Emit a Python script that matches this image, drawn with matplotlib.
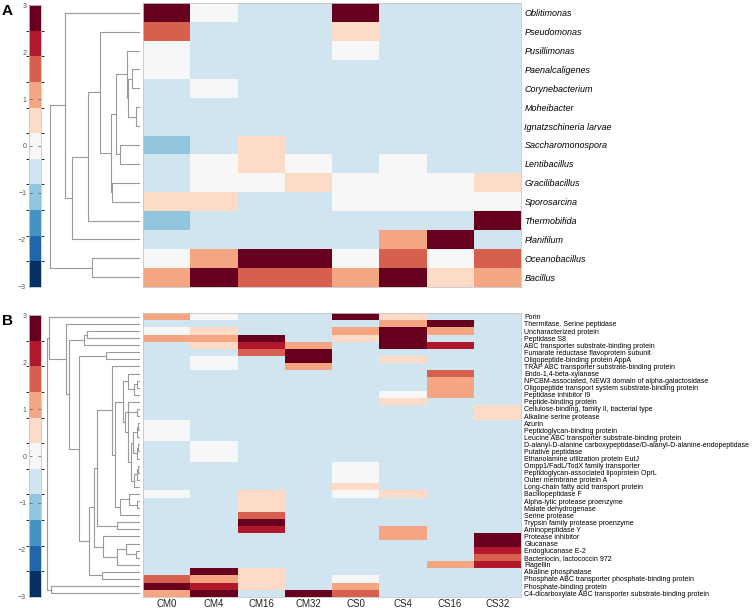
import matplotlib.pyplot as plt
import numpy as np
from matplotlib.colors import ListedColormap, BoundaryNorm
from matplotlib.colorbar import ColorbarBase

plt.rcParams['font.family'] = ['Liberation Sans', 'DejaVu Sans']

samples = ["CM0", "CM4", "CM16", "CM32", "CS0", "CS4", "CS16", "CS32"]

# z-scores
genera = ["Oblitimonas", "Pseudomonas", "Pusillimonas", "Paenalcaligenes",
          "Corynebacterium", "Moheibacter", "Ignatzschineria larvae",
          "Saccharomonospora", "Lentibacillus", "Gracilibacillus",
          "Sporosarcina", "Thermobifida", "Planifilum", "Oceanobacillus",
          "Bacillus"]
genus_z = [
    [2.8, 0.0, -0.5, -0.5, 2.8, -0.5, -0.5, -0.5],
    [1.6, -0.5, -0.5, -0.5, 0.5, -0.5, -0.5, -0.5],
    [0.0, -0.5, -0.5, -0.5, 0.0, -0.5, -0.5, -0.5],
    [0.0, -0.5, -0.5, -0.5, -0.5, -0.5, -0.5, -0.5],
    [-0.5, 0.0, -0.5, -0.5, -0.5, -0.5, -0.5, -0.5],
    [-0.5, -0.5, -0.5, -0.5, -0.5, -0.5, -0.5, -0.5],
    [-0.5, -0.5, -0.5, -0.5, -0.5, -0.5, -0.5, -0.5],
    [-1.1, -0.5, 0.5, -0.5, -0.5, -0.5, -0.5, -0.5],
    [-0.5, 0.0, 0.5, 0.0, -0.5, 0.0, -0.5, -0.5],
    [-0.5, 0.0, 0.0, 0.5, 0.0, 0.0, 0.0, 0.5],
    [0.5, 0.5, -0.5, -0.5, 0.0, 0.0, 0.0, 0.0],
    [-1.1, -0.5, -0.5, -0.5, -0.5, -0.5, -0.5, 2.8],
    [-0.5, -0.5, -0.5, -0.5, -0.5, 1.1, 2.8, -0.5],
    [0.0, 1.1, 2.8, 2.8, 0.0, 1.6, 0.0, 1.6],
    [1.1, 2.8, 1.6, 1.6, 1.1, 2.8, 0.5, 1.1],
]
# linkage rows (a, b, height); merge k gets id n_rows + k
genus_links = [
    (5, 6, 0.48), (3, 4, 0.93), (16, 15, 1.30), (2, 17, 1.48),
    (7, 8, 2.22), (18, 19, 2.70), (9, 10, 3.07), (20, 21, 3.26),
    (1, 22, 4.44), (13, 14, 5.37), (23, 11, 5.74), (25, 12, 7.52),
    (0, 26, 8.26), (27, 24, 10.0),
]

proteins = [
    "Porin", "Thermitase. Serine peptidase", "Uncharacterized protein",
    "Peptidase S8", "ABC transporter substrate-binding protein",
    "Fumarate reductase flavoprotein subunit",
    "Oligopeptide-binding protein AppA",
    "TRAP ABC transporter substrate-binding protein",
    "Endo-1,4-beta-xylanase",
    "NPCBM-associated, NEW3 domain of alpha-galactosidase",
    "Oligopeptide transport system substrate-binding protein",
    "Peptidase inhibitor I9", "Peptide-binding protein",
    "Cellulose-binding, family II, bacterial type",
    "Alkaline serine protease", "Azurin", "Peptidoglycan-binding protein",
    "Leucine ABC transporter substrate-binding protein",
    "D-alanyl-D-alanine carboxypeptidase/D-alanyl-D-alanine-endopeptidase",
    "Putative peptidase", "Ethanolamine utilization protein EutJ",
    "Ompp1/FadL/TodX family transporter",
    "Peptidoglycan-associated lipoprotein OprL", "Outer membrane protein A",
    "Long-chain fatty acid transport protein", "Bacillopeptidase F",
    "Alpha-lytic protease proenzyme", "Malate dehydrogenase",
    "Serine protease", "Trypsin family protease proenzyme",
    "Aminopeptidase Y", "Protease inhibitor", "Glucanase",
    "Endoglucanase E-2", "Bacteriocin, lactococcin 972", "Flagellin",
    "Alkaline phosphatase",
    "Phosphate ABC transporter phosphate-binding protein",
    "Phosphate-binding protein",
    "C4-dicarboxylate ABC transporter substrate-binding protein",
]
protein_z = [
    [1.1, 0.0, -0.5, -0.5, 2.8, 0.5, -0.5, -0.5],
    [-0.5, -0.5, -0.5, -0.5, -0.5, 1.1, 2.8, -0.5],
    [0.0, 0.5, -0.5, -0.5, 1.1, 2.8, 1.1, -0.5],
    [1.1, 1.1, 2.8, -0.5, 0.5, 2.8, -0.5, -0.5],
    [-0.5, 0.5, 2.2, 1.1, -0.5, 2.8, 2.2, -0.5],
    [-0.5, -0.5, 1.6, 2.8, -0.5, -0.5, -0.5, -0.5],
    [-0.5, 0.0, -0.5, 2.8, -0.5, 0.5, -0.5, -0.5],
    [-0.5, 0.0, -0.5, 1.1, -0.5, -0.5, -0.5, -0.5],
    [-0.5, -0.5, -0.5, -0.5, -0.5, -0.5, 1.6, -0.5],
    [-0.5, -0.5, -0.5, -0.5, -0.5, -0.5, 1.1, -0.5],
    [-0.5, -0.5, -0.5, -0.5, -0.5, -0.5, 1.1, -0.5],
    [-0.5, -0.5, -0.5, -0.5, -0.5, 0.0, 1.1, -0.5],
    [-0.5, -0.5, -0.5, -0.5, -0.5, 0.5, -0.5, -0.5],
    [-0.5, -0.5, -0.5, -0.5, -0.5, -0.5, -0.5, 0.5],
    [-0.5, -0.5, -0.5, -0.5, -0.5, -0.5, -0.5, 0.5],
    [0.0, -0.5, -0.5, -0.5, -0.5, -0.5, -0.5, -0.5],
    [0.0, -0.5, -0.5, -0.5, -0.5, -0.5, -0.5, -0.5],
    [0.0, -0.5, -0.5, -0.5, -0.5, -0.5, -0.5, -0.5],
    [-0.5, 0.0, -0.5, -0.5, -0.5, -0.5, -0.5, -0.5],
    [-0.5, 0.0, -0.5, -0.5, -0.5, -0.5, -0.5, -0.5],
    [-0.5, 0.0, -0.5, -0.5, -0.5, -0.5, -0.5, -0.5],
    [-0.5, -0.5, -0.5, -0.5, 0.0, -0.5, -0.5, -0.5],
    [-0.5, -0.5, -0.5, -0.5, 0.0, -0.5, -0.5, -0.5],
    [-0.5, -0.5, -0.5, -0.5, 0.0, -0.5, -0.5, -0.5],
    [-0.5, -0.5, -0.5, -0.5, 0.5, -0.5, -0.5, -0.5],
    [0.0, -0.5, 0.5, -0.5, 0.0, 0.5, -0.5, -0.5],
    [-0.5, -0.5, 0.5, -0.5, -0.5, -0.5, -0.5, -0.5],
    [-0.5, -0.5, 0.5, -0.5, -0.5, -0.5, -0.5, -0.5],
    [-0.5, -0.5, 1.6, -0.5, -0.5, -0.5, -0.5, -0.5],
    [-0.5, -0.5, 2.8, -0.5, -0.5, -0.5, -0.5, -0.5],
    [-0.5, -0.5, 2.2, -0.5, -0.5, 1.1, -0.5, -0.5],
    [-0.5, -0.5, -0.5, -0.5, -0.5, 1.1, -0.5, 2.8],
    [-0.5, -0.5, -0.5, -0.5, -0.5, -0.5, -0.5, 2.8],
    [-0.5, -0.5, -0.5, -0.5, -0.5, -0.5, -0.5, 2.2],
    [-0.5, -0.5, -0.5, -0.5, -0.5, -0.5, -0.5, 1.6],
    [-0.5, -0.5, -0.5, -0.5, -0.5, -0.5, 1.1, 2.2],
    [-0.5, 2.8, 0.5, -0.5, -0.5, -0.5, -0.5, -0.5],
    [1.6, 1.1, 0.5, -0.5, 0.0, -0.5, -0.5, -0.5],
    [2.8, 2.2, 0.5, -0.5, 1.1, -0.5, -0.5, -0.5],
    [1.1, 2.8, -0.5, 2.8, 1.6, -0.5, -0.5, -0.5],
]
protein_links = [
    (2, 3, 5.71), (40, 4, 6.00), (5, 6, 3.68), (9, 10, 0.30), (43, 11, 0.60),
    (8, 44, 1.25), (13, 14, 0.30), (15, 16, 0.20), (47, 17, 0.30), (18, 19, 0.20),
    (49, 20, 0.30), (21, 22, 0.20), (51, 23, 0.30), (52, 24, 0.60), (48, 50, 0.80),
    (54, 53, 1.00), (12, 55, 1.30), (46, 56, 1.60), (45, 57, 1.79), (26, 27, 0.30),
    (25, 59, 1.20), (60, 28, 2.14), (58, 61, 2.68), (7, 62, 2.96), (29, 30, 2.43),
    (63, 64, 4.57), (33, 34, 0.46), (32, 66, 1.54), (67, 35, 2.43), (31, 68, 3.93),
    (65, 69, 4.93), (36, 37, 4.04), (70, 71, 5.43), (42, 72, 6.54), (41, 73, 7.61),
    (1, 74, 7.96), (0, 75, 9.75), (38, 39, 9.57), (76, 77, 10.0),
]

colors = ['#053061', '#2166ac', '#4393c3', '#92c5de', '#d1e5f0', '#f7f7f7',
          '#fddbc7', '#f4a582', '#d6604d', '#b2182b', '#67001f']
cmap = ListedColormap(colors)
norm = BoundaryNorm(np.linspace(-3, 3, 12), cmap.N, clip=True)

W, H = 752, 608
fig = plt.figure(figsize=(W / 100, H / 100), dpi=100)


def box(x0, y0, x1, y1):
    return [x0 / W, 1 - y1 / H, (x1 - x0) / W, (y1 - y0) / H]


def draw_tree(ax, links, n):
    pos = {i: (float(i), 0.0) for i in range(n)}
    for k, (a, b, h) in enumerate(links):
        ya, ha = pos[a]
        yb, hb = pos[b]
        ax.plot([ha, h, h, hb], [ya, ya, yb, yb], color='#9a9a9a', lw=0.8)
        pos[n + k] = ((ya + yb) / 2, h)
    return max(h for _, _, h in links)


def panel(y0, y1, rows, z, links, letter, label_size, italic, show_cols, tree_left):
    # colour bar
    cax = fig.add_axes(box(29, y0 + 2, 41, y1))
    cb = ColorbarBase(cax, cmap=cmap, norm=norm, ticks=[-3, -2, -1, 0, 1, 2, 3])
    cb.outline.set_edgecolor('#c8c8c8')
    cb.outline.set_linewidth(0.6)
    cax.yaxis.set_ticks_position('both')
    cax.yaxis.set_label_position('left')
    cax.tick_params(labelsize=5, colors='#555555', direction='in', length=2.5,
                    width=0.5, pad=2, labelleft=True, labelright=False)

    # dendrogram
    dax = fig.add_axes(box(tree_left, y0, 140, y1))
    top = draw_tree(dax, links, len(rows))
    dax.set_xlim(top * 1.02, 0)
    dax.set_ylim(len(rows) - 0.5, -0.5)
    dax.axis('off')

    # heatmap
    hax = fig.add_axes(box(143, y0, 521, y1))
    hax.pcolormesh(np.array(z), cmap=cmap, norm=norm)
    hax.set_xlim(0, len(samples))
    hax.set_ylim(len(rows), 0)
    hax.yaxis.tick_right()
    hax.set_yticks(np.arange(len(rows)) + 0.5)
    hax.set_yticklabels(rows, fontsize=label_size, style='italic' if italic else 'normal')
    hax.tick_params(axis='y', length=0, pad=2.5)
    if show_cols:
        hax.set_xticks(np.arange(len(samples)) + 0.5)
        hax.set_xticklabels(samples, fontsize=7, color='#222222')
        hax.tick_params(axis='x', length=0, pad=2)
    else:
        hax.set_xticks([])
    for s in hax.spines.values():
        s.set_edgecolor('#c8c8c8')
        s.set_linewidth(0.6)

    fig.text(2 / W, 1 - (y0 + 8) / H, letter, fontsize=11, fontweight='bold',
             va='center', ha='left')


panel(3.3, 286.7, genera, genus_z, genus_links, 'A', 6.5, True, False, 48)
panel(313.3, 596.7, proteins, protein_z, protein_links, 'B', 5.0, False, True, 45)

fig.savefig('out.png', dpi=100)
